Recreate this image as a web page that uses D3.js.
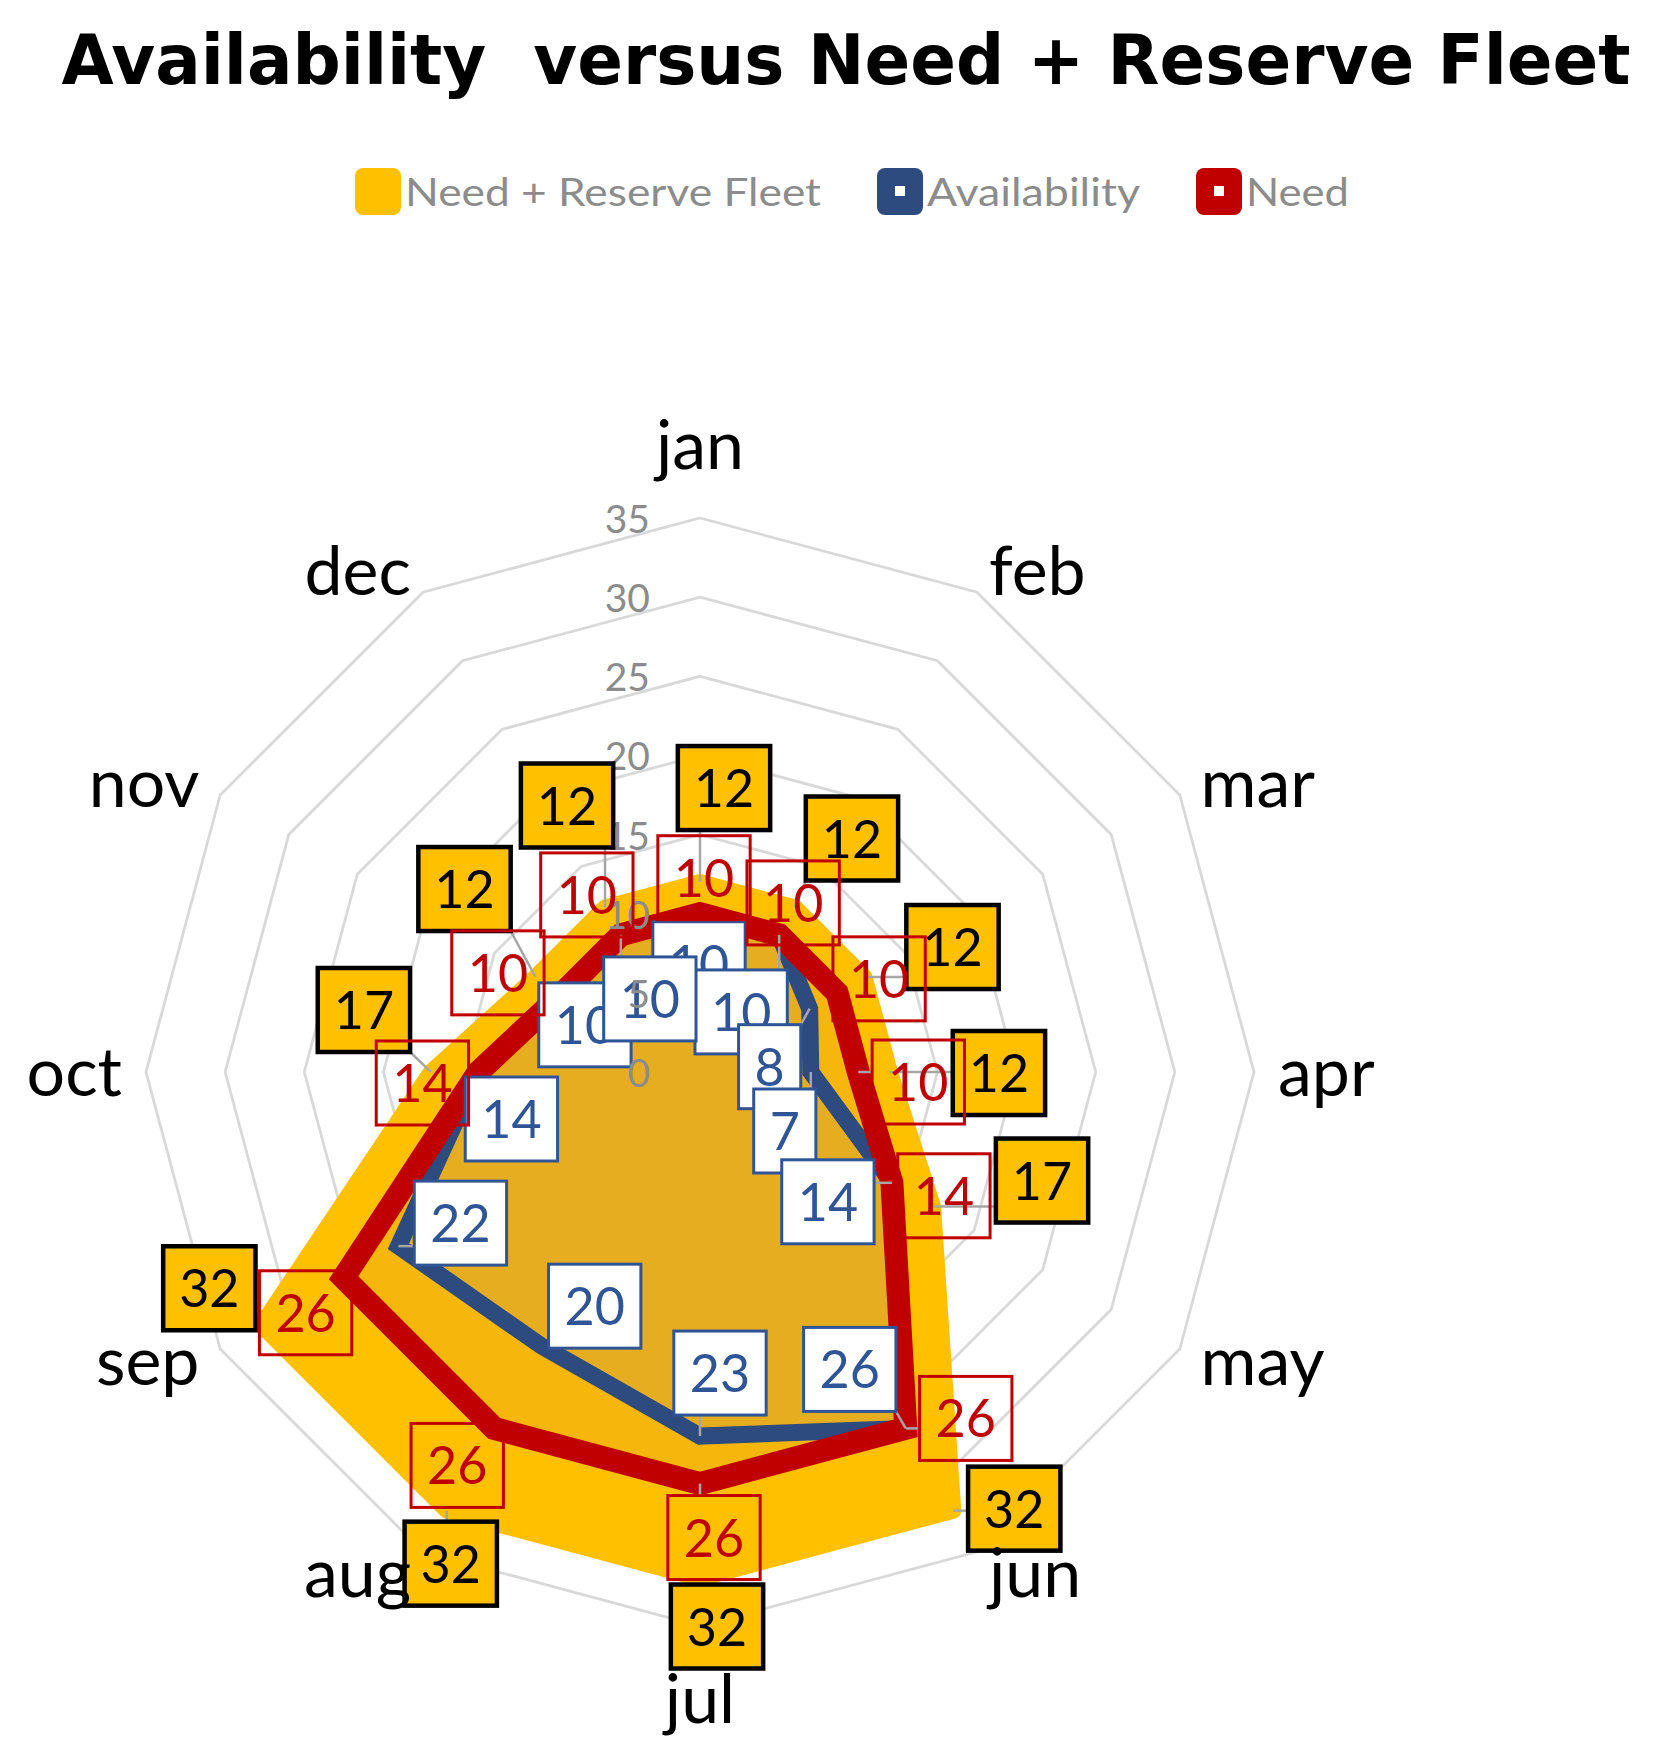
<!DOCTYPE html>
<html>
<head>
<meta charset="utf-8">
<script src="https://cdn.jsdelivr.net/npm/d3@7"></script>
<style>
  body { margin: 0; background: #fff; }
  svg { display: block; }
</style>
</head>
<body>
<svg id="chart"></svg>
<script>
'use strict';

// ---- data ----
var months = ["jan", "feb", "mar", "apr", "may", "jun", "jul", "aug", "sep", "oct", "nov", "dec"];
var needReserve = [12, 12, 12, 12, 17, 32, 32, 32, 32, 17, 12, 12];
var availability = [10, 10, 8, 7, 14, 26, 23, 20, 22, 14, 10, 10];
var need = [10, 10, 10, 10, 14, 26, 26, 26, 26, 14, 10, 10];
var ringTicks = [0, 5, 10, 15, 20, 25, 30, 35];
var seriesNames = ["Need + Reserve Fleet", "Availability", "Need"];

// label nudges (px, relative to the data point), like Excel's dragged labels
var needReserveShift = [[24,-94],[57,-69],[88,-30],[109,1],[109,-26],[61,-2],[17,48],[4,53],[-52,-37],[-67,-62],[-71,-88],[-38,-102]];
var availabilityShift = [[-1,50],[-38,77],[-40,58],[-26,59],[-64,19],[-56,-59],[20,-63],[53,-40],[62,-23],[33,47],[22,32],[29,64]];
var needShift = [[4,-36],[14,-32],[42,-14],[60,10],[52,13],[60,-10],[14,54],[-37,37],[-38,35],[-56,11],[-65,-20],[-34,-40]];

var colors = {
    reserve: "#FFC000",
    needFill: "#F6B60C",
    availFill: "#E7AD20",
    avail: "#2E4B7F",
    availText: "#2F5597",
    need: "#C00000",
    grid: "#D9D9D9",
    leader: "#A6A6A6",
    muted: "#8C8C8C",
};

var width = 1655, height = 1764;
var cx = 700, cy = 1072, R = 554;

var svg = d3.select("#chart")
    .attr("width", width)
    .attr("height", height);

var r = d3.scaleLinear().domain([0, 35]).range([0, R]);
var angle = d3.scaleLinear().domain([0, months.length]).range([0, 2 * Math.PI]);

function pt(i, v) {
    var p = d3.pointRadial(angle(i), r(v));
    return [cx + p[0], cy + p[1]];
}

var radial = d3.lineRadial()
    .angle(function(d, i) { return angle(i); })
    .radius(function(d) { return r(d); })
    .curve(d3.curveLinearClosed);

// title
svg.append("text")
    .attr("x", 846)
    .attr("y", 84)
    .attr("text-anchor", "middle")
    .attr("font-family", "DejaVu Sans")
    .attr("font-weight", "bold")
    .attr("font-size", 69)
    .attr("textLength", 1569)
    .attr("lengthAdjust", "spacingAndGlyphs")
    .style("white-space", "pre")
    .text("Availability  versus Need + Reserve Fleet");

// legend
var legendColors = [colors.reserve, colors.avail, colors.need];
var legendWidths = [416, 213, 103];
var lx = 355;
seriesNames.forEach(function(name, i) {
    var g = svg.append("g").attr("transform", "translate(" + lx + ",168)");
    g.append("rect")
        .attr("width", 46).attr("height", 47)
        .attr("rx", 8)
        .attr("fill", legendColors[i]);
    if (i > 0) {
        g.append("rect")
            .attr("x", 18).attr("y", 18)
            .attr("width", 10).attr("height", 10)
            .attr("fill", "#fff");
    }
    g.append("text")
        .attr("x", 50)
        .attr("y", 38)
        .attr("font-family", "Lato")
        .attr("font-size", 39)
        .attr("fill", colors.muted)
        .attr("textLength", legendWidths[i])
        .attr("lengthAdjust", "spacingAndGlyphs")
        .text(name);
    lx += 50 + legendWidths[i] + 56;
});

// layers
var plot = svg.append("g").attr("transform", "translate(" + cx + "," + cy + ")");
var gGrid = plot.append("g");
var gFill = plot.append("g");
var gLeader = svg.append("g");
var gLines = plot.append("g");
var gAvailLab = svg.append("g");
var gRingLab = svg.append("g");
var gReserveLab = svg.append("g");
var gNeedLab = svg.append("g");
var gMonth = svg.append("g");

// grid rings
ringTicks.slice(1).forEach(function(t) {
    gGrid.append("path")
        .datum(months.map(function() { return t; }))
        .attr("d", radial)
        .attr("fill", "none")
        .attr("stroke", colors.grid)
        .attr("stroke-width", 2.8);
});

// fills
gFill.append("path").datum(needReserve).attr("d", radial)
    .attr("fill", colors.reserve)
    .attr("stroke", colors.reserve)
    .attr("stroke-width", 16)
    .attr("stroke-linejoin", "round");
gFill.append("path").datum(need).attr("d", radial)
    .attr("fill", colors.needFill);
gFill.append("path").datum(availability).attr("d", radial)
    .attr("fill", colors.availFill);

// lines
gLines.append("path").datum(availability).attr("d", radial)
    .attr("fill", "none")
    .attr("stroke", colors.avail)
    .attr("stroke-width", 17)
    .attr("stroke-linejoin", "miter");
gLines.append("path").datum(need).attr("d", radial)
    .attr("fill", "none")
    .attr("stroke", colors.need)
    .attr("stroke-width", 23)
    .attr("stroke-linejoin", "miter");

// ring tick labels
ringTicks.forEach(function(t) {
    gRingLab.append("text")
        .attr("x", cx - 50)
        .attr("y", cy - r(t) + 15)
        .attr("text-anchor", "end")
        .attr("font-family", "Lato")
        .attr("font-size", 39)
        .attr("fill", colors.muted)
        .text(t);
});

// data labels with leader lines
function drawLabels(g, values, shifts, style) {
    values.forEach(function(v, i) {
        var p = pt(i, v);
        var x = p[0] + shifts[i][0], y = p[1] + shifts[i][1];
        var gl = g.append("g");
        var box = gl.append("rect");
        var t = gl.append("text")
            .attr("x", x)
            .attr("y", y + 19)
            .attr("text-anchor", "middle")
            .attr("font-family", "Lato")
            .attr("font-size", 52)
            .attr("fill", style.text)
            .text(v);
        var w = t.node().getComputedTextLength() + 32;
        var h = 84;
        var x0 = x - w / 2, y0 = y - h / 2;
        box.attr("x", x0).attr("y", y0)
            .attr("width", w).attr("height", h)
            .attr("fill", style.fill)
            .attr("stroke", style.stroke)
            .attr("stroke-width", style.sw);

        var qx = Math.max(x0, Math.min(p[0], x0 + w));
        var qy = Math.max(y0, Math.min(p[1], y0 + h));
        if (Math.hypot(qx - p[0], qy - p[1]) > 10) {
            gLeader.append("line")
                .attr("x1", p[0]).attr("y1", p[1])
                .attr("x2", qx).attr("y2", qy)
                .attr("stroke", colors.leader)
                .attr("stroke-width", 2.5);
        }
    });
}

drawLabels(gAvailLab, availability, availabilityShift,
    {text: colors.availText, fill: "#fff", stroke: colors.availText, sw: 3});
drawLabels(gReserveLab, needReserve, needReserveShift,
    {text: "#000", fill: colors.reserve, stroke: "#000", sw: 4.5});
drawLabels(gNeedLab, need, needShift,
    {text: colors.need, fill: "none", stroke: colors.need, sw: 3});

// category labels
months.forEach(function(m, i) {
    var a = angle(i);
    var s = Math.sin(a), c = Math.cos(a);
    var x = cx + (R + 24) * s;
    var y = cy - (R + 24) * c;
    var anchor = s > 0.01 ? "start" : (s < -0.01 ? "end" : "middle");
    var shift = Math.abs(c) > 0.99 ? -c * 49 : 0;
    gMonth.append("text")
        .attr("x", x)
        .attr("y", y + 24 + shift)
        .attr("text-anchor", anchor)
        .attr("font-family", "Lato")
        .attr("font-size", 68)
        .attr("fill", "#000")
        .text(m);
});
</script>
</body>
</html>
